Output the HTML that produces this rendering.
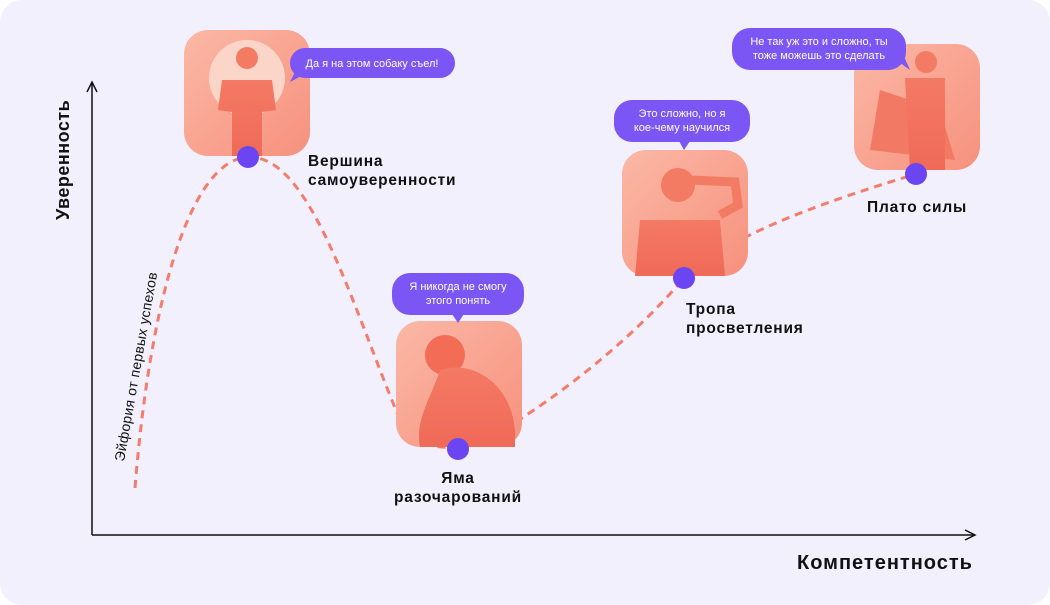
<!DOCTYPE html>
<html><head><meta charset="utf-8"><style>
html,body{margin:0;padding:0;background:#fff;}
svg{display:block;font-family:"Liberation Sans",sans-serif;}
</style></head><body>
<svg width="1050" height="605" viewBox="0 0 1050 605" xmlns="http://www.w3.org/2000/svg">
<defs>
<linearGradient id="g" x1="0" y1="0" x2="1" y2="1"><stop offset="0" stop-color="#fbb8a6"/><stop offset="1" stop-color="#f6917d"/></linearGradient>
<linearGradient id="f" x1="0" y1="0" x2="0" y2="1"><stop offset="0" stop-color="#f47a64"/><stop offset="1" stop-color="#ef6a58"/></linearGradient>
</defs>
<rect x="0" y="0" width="1050" height="605" rx="22" fill="#f1f0fc"/>
<line x1="92" y1="535" x2="92" y2="82" stroke="#111" stroke-width="1.5"/>
<polyline points="87,92 92,82 97,92" fill="none" stroke="#111" stroke-width="1.5"/>
<line x1="92" y1="535" x2="975" y2="535" stroke="#111" stroke-width="1.5"/>
<polyline points="965,530 975,535 965,540" fill="none" stroke="#111" stroke-width="1.5"/>
<text transform="translate(69,220) rotate(-90)" font-size="18" font-weight="bold" fill="#111" letter-spacing="0.5">Уверенность</text>
<text x="797" y="569" font-size="20" font-weight="bold" fill="#111" letter-spacing="1">Компетентность</text>
<text transform="translate(124,462) rotate(-80)" font-size="14" fill="#111" letter-spacing="0.3">Эйфория от первых успехов</text>
<path d="M135,488 C150,300 190,160 248,157 C310,155 350,300 400,420 C430,470 490,440 522,418 C580,380 640,330 684,278 C720,245 780,215 916,174" fill="none" stroke="#f47c6c" stroke-width="3" stroke-dasharray="8,6"/>
<g>
<rect x="184" y="30" width="126" height="126" rx="24" fill="url(#g)"/>
<circle cx="247" cy="78" r="38" fill="#fcd5c9"/>
<circle cx="247" cy="58" r="11" fill="#f37a63"/>
<path d="M222,80 L272,80 L276,110 L262,112 L262,156 L232,156 L232,112 L218,110 Z" fill="url(#f)"/>
</g>
<g>
<rect x="396" y="321" width="126" height="126" rx="24" fill="url(#g)"/>
<circle cx="445" cy="355" r="20" fill="#f26c56"/>
<path d="M440,370 C470,360 510,380 515,430 L515,447 L420,447 C415,420 430,400 440,370Z" fill="url(#f)"/>
</g>
<g>
<rect x="622" y="150" width="126" height="126" rx="24" fill="url(#g)"/>
<circle cx="678" cy="185" r="17" fill="#f37a63"/>
<path d="M640,220 L720,220 L725,276 L635,276 Z" fill="url(#f)"/>
<path d="M690,180 L735,182 L738,205 L720,215" fill="none" stroke="#f37a63" stroke-width="9"/>
</g>
<g>
<rect x="854" y="44" width="126" height="126" rx="24" fill="url(#g)"/>
<path d="M870,150 L880,90 L940,110 L955,160 Z" fill="#f27a64"/>
<circle cx="926" cy="62" r="11" fill="#f37a63"/>
<path d="M905,78 L945,78 L945,170 L910,170 Z" fill="url(#f)"/>
</g>
<circle cx="248" cy="157" r="11" fill="#6c45f3"/>
<circle cx="458" cy="449" r="11" fill="#6c45f3"/>
<circle cx="684" cy="278" r="11" fill="#6c45f3"/>
<circle cx="916" cy="174" r="11" fill="#6c45f3"/>
<g font-size="15.5" font-weight="bold" fill="#111" letter-spacing="0.8">
<text x="308" y="166">Вершина</text><text x="308" y="185">самоуверенности</text>
<text x="458" y="483" text-anchor="middle">Яма</text><text x="458" y="502" text-anchor="middle">разочарований</text>
<text x="686" y="314">Тропа</text><text x="686" y="333">просветления</text>
<text x="867" y="212">Плато силы</text>
</g>
<g fill="#7c55f5">
<rect x="290" y="48" width="165" height="30" rx="15"/><path d="M296,70 L290,82 L305,74Z"/>
<rect x="392" y="273" width="132" height="42" rx="18"/><path d="M452,314 L458,323 L464,314Z"/>
<rect x="614" y="100" width="136" height="42" rx="18"/><path d="M679,141 L684,150 L690,141Z"/>
<rect x="732" y="28" width="174" height="42" rx="18"/><path d="M896,60 L910,70 L902,52Z"/>
</g>
<g font-size="11" fill="#fff" text-anchor="middle">
<text x="372" y="67">Да я на этом собаку съел!</text>
<text x="458" y="290">Я никогда не смогу</text><text x="458" y="304">этого понять</text>
<text x="682" y="117">Это сложно, но я</text><text x="682" y="131">кое-чему научился</text>
<text x="819" y="45">Не так уж это и сложно, ты</text><text x="819" y="59">тоже можешь это сделать</text>
</g>
</svg>
</body></html>
